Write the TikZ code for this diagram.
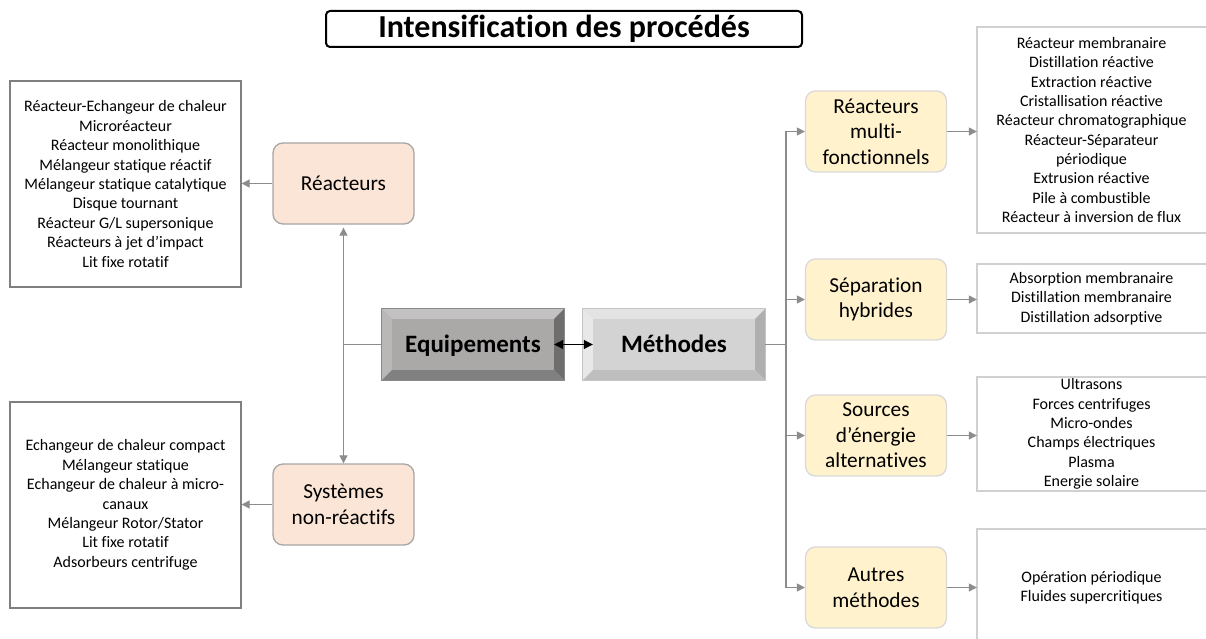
\documentclass[tikz,border=0pt]{standalone}
\usepackage{fontspec}
\setmainfont{Carlito}[Ligatures=NoCommon]
\usetikzlibrary{arrows.meta,calc}
\definecolor{peach}{HTML}{FBE5D6}
\definecolor{peachline}{HTML}{A6A6A6}
\definecolor{cream}{HTML}{FFF2CC}
\definecolor{creamline}{HTML}{D9D9D9}
\definecolor{connc}{HTML}{8C8C8C}
\definecolor{listlc}{HTML}{7F7F7F}
\definecolor{listrc}{HTML}{D0D0D0}
\definecolor{eqface}{HTML}{ABA8A8}
\definecolor{eqtop}{HTML}{C3C1C1}
\definecolor{eqleft}{HTML}{B9B7B7}
\definecolor{eqright}{HTML}{6E6E6E}
\definecolor{eqbot}{HTML}{808080}
\definecolor{eqedge}{HTML}{8A8A8A}
\definecolor{mface}{HTML}{D3D3D3}
\definecolor{mtop}{HTML}{E3E3E3}
\definecolor{mleft}{HTML}{E8E8E8}
\definecolor{mright}{HTML}{AFAFAF}
\definecolor{mbot}{HTML}{BEBEBE}
\definecolor{medge}{HTML}{C4C4C4}
\newcommand\bevelbox[6]{%
  \fill[#2] (#1.north west) -- (#1.north east) -- ($(#1.north east)+(-10,10)$) -- ($(#1.north west)+(10,10)$) -- cycle;
  \fill[#3] (#1.north west) -- ($(#1.north west)+(10,10)$) -- ($(#1.south west)+(10,-10)$) -- (#1.south west) -- cycle;
  \fill[#4] (#1.north east) -- (#1.south east) -- ($(#1.south east)+(-10,-10)$) -- ($(#1.north east)+(-10,10)$) -- cycle;
  \fill[#5] (#1.south west) -- ($(#1.south west)+(10,-10)$) -- ($(#1.south east)+(-10,-10)$) -- (#1.south east) -- cycle;
  \draw[#6, line width=0.8pt] (#1.north west) rectangle (#1.south east);
}
\begin{document}
\begin{tikzpicture}[x=1pt,y=-1pt,
  cat/.style={rounded corners=10pt, minimum width=141pt, minimum height=81pt, align=center,
    font=\fontsize{21.3}{25.5}\selectfont, line width=1.3pt, inner sep=2pt},
  peachbox/.style={cat, fill=peach, draw=peachline},
  creambox/.style={cat, fill=cream, draw=creamline},
  listl/.style={draw=listlc, line width=1.3pt, align=center, minimum width=231pt,
    font=\fontsize{16}{19.4}\selectfont, inner sep=0pt},
  listr/.style={align=center, minimum width=229pt, font=\fontsize{16}{19.3}\selectfont, inner sep=0pt},
  rline/.style={draw=listrc, line width=1.6pt},
  line/.style={draw=connc, line width=1.2pt},
  conn/.style={line, -{Triangle[length=8pt,width=8pt]}},
  bev/.style={minimum width=182pt, minimum height=71pt, inner sep=0pt, text height=17pt, text depth=2pt,
    font=\bfseries\fontsize{25}{29}\selectfont}
]
\useasboundingbox (0,0) rectangle (1206,639);
\clip (0,0) rectangle (1206,639);
\fill[white] (0,0) rectangle (1206,639);

% title
\node[draw, line width=2pt, rounded corners=4pt, minimum width=476pt, minimum height=36pt,
  inner sep=0pt, font=\bfseries\fontsize{32}{34}\selectfont] (title) at (564,29) {Intensification des procédés};

% central boxes
\node[bev, fill=eqface] (eq) at (473,344.5) {};
\bevelbox{eq}{eqtop}{eqleft}{eqright}{eqbot}{eqedge}
\node[bev] (eqt) at (eq.center) {Equipements};
\node[bev, fill=mface] (meth) at (674,344.5) {};
\bevelbox{meth}{mtop}{mleft}{mright}{mbot}{medge}
\node[bev] (metht) at (meth.center) {Méthodes};
\draw[black, line width=1pt, {Triangle[length=9pt,width=9pt]}-{Triangle[length=9pt,width=9pt]}]
  ($(eq.east)+(-10,0)$) -- ($(meth.west)+(10,0)$);

% left side
\node[peachbox] (reac) at (343.5,183.5) {Réacteurs};
\node[peachbox] (sys) at (343.5,504.5) {Systèmes\\non-réactifs};
\node[listl, minimum height=206pt] (lreac) at (125.5,184) {Réacteur-Echangeur de chaleur\\Microréacteur\\Réacteur monolithique\\Mélangeur statique réactif\\Mélangeur statique catalytique\\Disque tournant\\Réacteur G/L supersonique\\Réacteurs à jet d’impact\\Lit fixe rotatif};
\node[listl, minimum height=206pt] (lsys) at (125.5,505) {Echangeur de chaleur compact\\Mélangeur statique\\Echangeur de chaleur à micro-\\canaux\\Mélangeur Rotor/Stator\\Lit fixe rotatif\\Adsorbeurs centrifuge};
\coordinate (jl) at (343.5,344.5);
\draw[line] (eq.west) -- (jl);
\draw[conn, shorten >=3pt] (jl) -- (reac.south);
\draw[conn] (jl) -- (sys.north);
\draw[conn] (reac.west) -- (reac.west -| lreac.east);
\draw[conn] (sys.west) -- (sys.west -| lsys.east);

% right side
\node[creambox] (rm) at (876,131.5) {Réacteurs\\multi-\\fonctionnels};
\node[creambox] (sep) at (876,299.5) {Séparation\\hybrides};
\node[creambox] (src) at (876,435.5) {Sources\\d’énergie\\alternatives};
\node[creambox] (aut) at (876,587.5) {Autres\\méthodes};

\node[listr, minimum height=206pt] (lrm) at (1091.5,130) {Réacteur membranaire\\Distillation réactive\\Extraction réactive\\Cristallisation réactive\\Réacteur chromatographique\\Réacteur-Séparateur\\périodique\\Extrusion réactive\\Pile à combustible\\Réacteur à inversion de flux};
\node[listr, minimum height=69pt] (lsep) at (1091.5,298.5) {Absorption membranaire\\Distillation membranaire\\Distillation adsorptive};
\node[listr, minimum height=114pt] (lsrc) at (1091.5,434) {Ultrasons\\Forces centrifuges\\Micro-ondes\\Champs électriques\\Plasma\\Energie solaire};
\node[listr, minimum height=117pt] (laut) at (1091.5,587.5) {Opération périodique\\Fluides supercritiques};
\foreach \n in {lrm,lsep,lsrc,laut}
  \draw[rline] ($(\n.north east)+(5,0)$) -- (\n.north west) -- (\n.south west) -- ($(\n.south east)+(5,0)$);

\coordinate (jr) at (786,344.5);
\draw[line] (meth.east) -- (jr);
\foreach \n in {rm,sep,src,aut}
  \draw[conn] (jr) |- (\n.west);
\foreach \a/\b in {rm/lrm,sep/lsep,src/lsrc,aut/laut}
  \draw[conn] (\a.east) -- (\a.east -| \b.west);
\end{tikzpicture}
\end{document}
